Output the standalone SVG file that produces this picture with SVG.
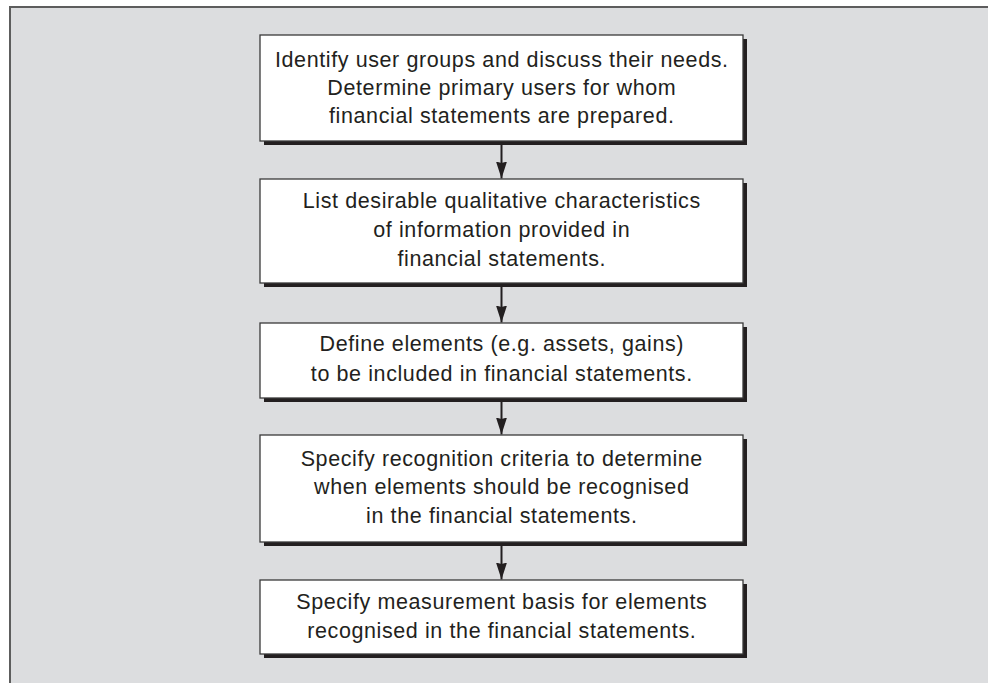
<svg xmlns="http://www.w3.org/2000/svg" width="988" height="683" viewBox="0 0 988 683">
  <defs>
    <style>
      .shadow { fill: #231f20; }
      .box { fill: #ffffff; stroke: #3a3a3a; stroke-width: 1.3; }
      .txt { font-family: "Liberation Sans", Arial, Helvetica, sans-serif; font-size: 21.5px; letter-spacing: 0.6px; fill: #231f20; text-anchor: middle; }
      .conn { stroke: #231f20; stroke-width: 2; fill: none; }
    </style>
    <marker id="arrow" viewBox="0 0 17 11" refX="17" refY="5.5" markerWidth="17" markerHeight="11" markerUnits="userSpaceOnUse" orient="auto">
      <path d="M0,0 L17,5.5 L0,11 L1.5,5.5 Z" fill="#231f20"/>
    </marker>
  </defs>
  <rect x="0" y="0" width="988" height="683" fill="#ffffff"/>
  <rect x="10" y="7" width="1000" height="700" fill="#dcdddf" stroke="#5d5d5d" stroke-width="2"/>

  <g id="connectors">
    <path class="conn" d="M501.5,145 L501.5,178.5" marker-end="url(#arrow)"/>
    <path class="conn" d="M501.5,287 L501.5,322.5" marker-end="url(#arrow)"/>
    <path class="conn" d="M501.5,402 L501.5,434.5" marker-end="url(#arrow)"/>
    <path class="conn" d="M501.5,546 L501.5,579.5" marker-end="url(#arrow)"/>
  </g>

  <g id="node1">
    <rect class="shadow" x="264" y="39" width="483" height="106"/>
    <rect class="box" x="260" y="35" width="483" height="106"/>
    <text class="txt" x="501.8" y="67">Identify user groups and discuss their needs.</text>
    <text class="txt" x="501.8" y="95">Determine primary users for whom</text>
    <text class="txt" x="501.8" y="123">financial statements are prepared.</text>
  </g>

  <g id="node2">
    <rect class="shadow" x="264" y="183" width="483" height="104"/>
    <rect class="box" x="260" y="179" width="483" height="104"/>
    <text class="txt" x="501.8" y="208">List desirable qualitative characteristics</text>
    <text class="txt" x="501.8" y="237">of information provided in</text>
    <text class="txt" x="501.8" y="266">financial statements.</text>
  </g>

  <g id="node3">
    <rect class="shadow" x="264" y="327" width="483" height="75"/>
    <rect class="box" x="260" y="323" width="483" height="75"/>
    <text class="txt" x="501.8" y="351">Define elements (e.g. assets, gains)</text>
    <text class="txt" x="501.8" y="381">to be included in financial statements.</text>
  </g>

  <g id="node4">
    <rect class="shadow" x="264" y="439" width="483" height="107"/>
    <rect class="box" x="260" y="435" width="483" height="107"/>
    <text class="txt" x="501.8" y="466">Specify recognition criteria to determine</text>
    <text class="txt" x="501.8" y="494">when elements should be recognised</text>
    <text class="txt" x="501.8" y="523">in the financial statements.</text>
  </g>

  <g id="node5">
    <rect class="shadow" x="264" y="584" width="483" height="74"/>
    <rect class="box" x="260" y="580" width="483" height="74"/>
    <text class="txt" x="501.8" y="609">Specify measurement basis for elements</text>
    <text class="txt" x="501.8" y="638">recognised in the financial statements.</text>
  </g>
</svg>
